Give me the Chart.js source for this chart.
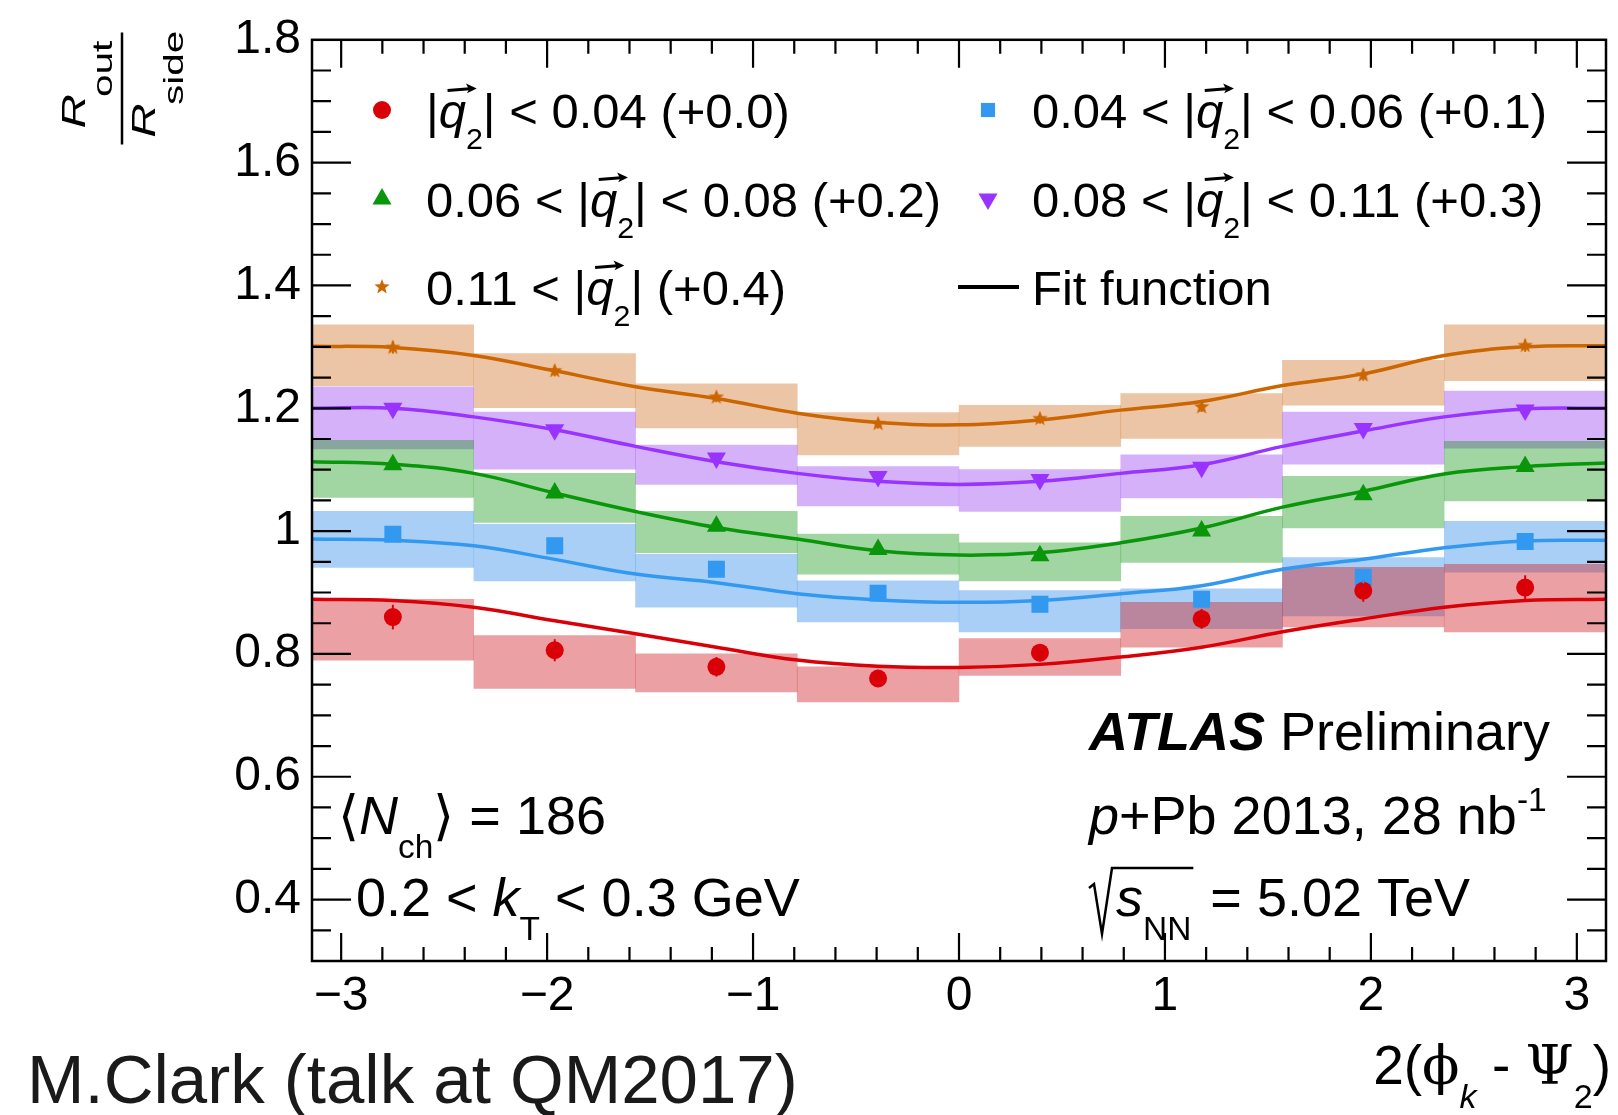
<!DOCTYPE html>
<html>
<head>
<meta charset="utf-8">
<script src="https://cdn.jsdelivr.net/npm/chart.js@4.4.0/dist/chart.umd.min.js"></script>
<style>
  html, body { margin: 0; padding: 0; background: #fff; }
</style>
</head>
<body>
<canvas id="c" width="1618" height="1115"></canvas>
<script>
// bins in 2(phi_k - Psi_2), 8 bins over [-pi, pi]
var binCenters = [-2.749, -1.963, -1.178, -0.393, 0.393, 1.178, 1.963, 2.749];
var fitX = [-3.1416, -2.749, -2.356, -1.963, -1.571, -1.178, -0.785, -0.393, 0, 0.393, 0.785, 1.178, 1.571, 1.963, 2.356, 2.749, 3.1416];

// |q2| < 0.04 (+0.0)
var redVal   = [0.860, 0.806, 0.779, 0.760, 0.802, 0.857, 0.903, 0.908];
var redErr   = [0.020, 0.018, 0.016, 0.014, 0.014, 0.016, 0.018, 0.020];
var redSysLo = [0.790, 0.744, 0.738, 0.722, 0.765, 0.811, 0.844, 0.836];
var redSysHi = [0.889, 0.830, 0.800, 0.779, 0.825, 0.884, 0.941, 0.946];
var redFit   = [0.889, 0.887, 0.876, 0.854, 0.833, 0.811, 0.790, 0.780, 0.778, 0.783, 0.795, 0.811, 0.836, 0.857, 0.876, 0.887, 0.889];

// 0.04 < |q2| < 0.06 (+0.1)
var blueVal   = [0.995, 0.976, 0.938, 0.899, 0.881, 0.889, 0.925, 0.983];
var blueErr   = [0.010, 0.010, 0.009, 0.008, 0.008, 0.009, 0.010, 0.010];
var blueSysLo = [0.941, 0.919, 0.876, 0.852, 0.836, 0.841, 0.862, 0.933];
var blueSysHi = [1.032, 1.011, 0.962, 0.919, 0.903, 0.906, 0.957, 1.016];
var blueFit   = [0.987, 0.985, 0.976, 0.954, 0.930, 0.916, 0.898, 0.888, 0.884, 0.887, 0.898, 0.911, 0.938, 0.954, 0.973, 0.984, 0.985];

// 0.06 < |q2| < 0.08 (+0.2)
var greenVal   = [1.108, 1.062, 1.008, 0.970, 0.960, 1.000, 1.059, 1.105];
var greenErr   = [0.008, 0.008, 0.007, 0.007, 0.007, 0.007, 0.008, 0.008];
var greenSysLo = [1.055, 1.014, 0.965, 0.930, 0.919, 0.949, 1.005, 1.049];
var greenSysHi = [1.148, 1.094, 1.032, 0.995, 0.981, 1.024, 1.089, 1.146];
var greenFit   = [1.113, 1.109, 1.094, 1.062, 1.032, 1.006, 0.987, 0.968, 0.961, 0.965, 0.981, 1.005, 1.039, 1.065, 1.093, 1.105, 1.111];

// 0.08 < |q2| < 0.11 (+0.3)
var purpleVal   = [1.200, 1.165, 1.119, 1.089, 1.084, 1.104, 1.167, 1.197];
var purpleErr   = [0.008, 0.008, 0.007, 0.007, 0.007, 0.007, 0.008, 0.008];
var purpleSysLo = [1.134, 1.101, 1.076, 1.041, 1.032, 1.054, 1.109, 1.135];
var purpleSysHi = [1.235, 1.194, 1.140, 1.105, 1.100, 1.124, 1.194, 1.228];
var purpleFit   = [1.200, 1.200, 1.186, 1.165, 1.138, 1.113, 1.094, 1.081, 1.076, 1.081, 1.094, 1.108, 1.138, 1.163, 1.186, 1.199, 1.200];

// 0.11 < |q2| (+0.4)
var orangeVal   = [1.299, 1.261, 1.218, 1.175, 1.183, 1.202, 1.254, 1.302];
var orangeErr   = [0.010, 0.009, 0.008, 0.008, 0.008, 0.008, 0.009, 0.010];
var orangeSysLo = [1.237, 1.201, 1.168, 1.124, 1.138, 1.151, 1.205, 1.245];
var orangeSysHi = [1.336, 1.289, 1.240, 1.193, 1.205, 1.224, 1.278, 1.336];
var orangeFit   = [1.301, 1.299, 1.286, 1.261, 1.235, 1.216, 1.192, 1.177, 1.173, 1.181, 1.197, 1.211, 1.237, 1.256, 1.286, 1.300, 1.302];

var xTickValues = [-3, -2, -1, 0, 1, 2, 3];
var xTickLabels = ['\u22123', '\u22122', '\u22121', '0', '1', '2', '3'];
var yTickValues = [0.4, 0.6, 0.8, 1.0, 1.2, 1.4, 1.6, 1.8];
var yTickLabels = ['0.4', '0.6', '0.8', '1', '1.2', '1.4', '1.6', '1.8'];

var FONT = '"Liberation Sans", Arial, Helvetica, sans-serif';
var SERIF = '"DejaVu Serif", "Liberation Serif", serif';

// star marker (ROOT full star)
function makeStar(color, R) {
  var c = document.createElement('canvas');
  var s = Math.ceil(R * 2 + 2);
  c.width = s; c.height = s;
  var g = c.getContext('2d');
  g.fillStyle = color;
  g.beginPath();
  for (var k = 0; k < 10; k++) {
    var r = (k % 2) ? R * 0.42 : R;
    var a = -Math.PI / 2 + k * Math.PI / 5;
    g.lineTo(s / 2 + r * Math.cos(a), s / 2 + r * Math.sin(a));
  }
  g.closePath();
  g.fill();
  return c;
}
var starImg = makeStar('rgb(204,102,0)', 8);

var series = [
  { val: redVal, err: redErr, lo: redSysLo, hi: redSysHi, fit: redFit,
    color: 'rgb(218,0,8)', box: 'rgba(210,40,45,0.44)', style: 'circle', radius: 9, rot: 0 },
  { val: blueVal, err: blueErr, lo: blueSysLo, hi: blueSysHi, fit: blueFit,
    color: 'rgb(51,153,240)', box: 'rgba(51,140,235,0.42)', style: 'rect', radius: 12, rot: 0 },
  { val: greenVal, err: greenErr, lo: greenSysLo, hi: greenSysHi, fit: greenFit,
    color: 'rgb(10,150,10)', box: 'rgba(20,150,20,0.40)', style: 'triangle', radius: 11, rot: 0 },
  { val: purpleVal, err: purpleErr, lo: purpleSysLo, hi: purpleSysHi, fit: purpleFit,
    color: 'rgb(153,51,255)', box: 'rgba(150,60,240,0.40)', style: 'triangle', radius: 11, rot: 180 },
  { val: orangeVal, err: orangeErr, lo: orangeSysLo, hi: orangeSysHi, fit: orangeFit,
    color: 'rgb(204,102,0)', box: 'rgba(205,110,30,0.40)', style: starImg, radius: 8, rot: 0 }
];

var datasets = [];
series.forEach(function (s) {
  datasets.push({
    type: 'bar',
    data: binCenters.map(function (x, i) { return { x: x, y: [s.lo[i], s.hi[i]] }; }),
    backgroundColor: s.box,
    borderWidth: 0,
    grouped: false,
    barPercentage: 1,
    categoryPercentage: 1,
    order: 3
  });
});
series.forEach(function (s) {
  datasets.push({
    type: 'line',
    data: fitX.map(function (x, i) { return { x: x, y: s.fit[i] }; }),
    borderColor: s.color,
    borderWidth: 3.5,
    pointRadius: 0,
    fill: false,
    tension: 0.4,
    order: 2
  });
});
series.forEach(function (s) {
  datasets.push({
    type: 'scatter',
    data: binCenters.map(function (x, i) { return { x: x, y: s.val[i] }; }),
    backgroundColor: s.color,
    borderColor: s.color,
    borderWidth: 0,
    pointStyle: s.style,
    pointRadius: s.radius,
    pointRotation: s.rot,
    order: 1
  });
});

// rich text: parts = [[text, flags]] flags: i italic, b bold, _ sub, ^ sup, v vector arrow, s serif
function drawRich(ctx, x, y, parts, size, align) {
  var items = [], w = 0;
  parts.forEach(function (p) {
    var f = p[1] || '';
    var small = f.indexOf('_') >= 0 || f.indexOf('^') >= 0;
    var fs = small ? size * 0.62 : size;
    var font = (f.indexOf('b') >= 0 ? 'bold ' : '') + (f.indexOf('i') >= 0 ? 'italic ' : '') +
      fs + 'px ' + (f.indexOf('s') >= 0 ? SERIF : FONT);
    ctx.font = font;
    var tw = ctx.measureText(p[0]).width;
    var dy = f.indexOf('_') >= 0 ? size * 0.44 : (f.indexOf('^') >= 0 ? -size * 0.42 : 0);
    items.push({ t: p[0], font: font, tw: tw, dy: dy, arrow: f.indexOf('v') >= 0, fs: fs });
    w += tw;
  });
  var cx = align === 'right' ? x - w : (align === 'center' ? x - w / 2 : x);
  ctx.textAlign = 'left';
  ctx.textBaseline = 'alphabetic';
  items.forEach(function (it) {
    ctx.font = it.font;
    ctx.fillText(it.t, cx, y + it.dy);
    if (it.arrow) {
      var ay = y - it.fs * 0.8;
      var x0 = cx + it.fs * 0.18, x1 = cx + it.tw + it.fs * 0.22;
      ctx.save();
      ctx.lineWidth = it.fs * 0.06;
      ctx.beginPath(); ctx.moveTo(x0, ay + 2); ctx.lineTo(x1 - 4, ay); ctx.stroke();
      ctx.beginPath();
      ctx.moveTo(x1, ay);
      ctx.lineTo(x1 - it.fs * 0.22, ay - it.fs * 0.1);
      ctx.lineTo(x1 - it.fs * 0.16, ay + 1);
      ctx.lineTo(x1 - it.fs * 0.2, ay + it.fs * 0.1);
      ctx.closePath(); ctx.fill();
      ctx.restore();
    }
    cx += it.tw;
  });
  return w;
}

function drawMarker(ctx, style, rot, r, x, y, color) {
  ctx.save();
  ctx.fillStyle = color;
  if (style === 'circle') {
    ctx.beginPath(); ctx.arc(x, y, r, 0, Math.PI * 2); ctx.fill();
  } else if (style === 'rect') {
    var h = r * Math.SQRT1_2;
    ctx.fillRect(x - h, y - h, 2 * h, 2 * h);
  } else if (style === 'triangle') {
    var a = rot * Math.PI / 180;
    ctx.beginPath();
    for (var k = 0; k < 3; k++) {
      ctx.lineTo(x + Math.sin(a) * r, y - Math.cos(a) * r);
      a += 2 * Math.PI / 3;
    }
    ctx.closePath(); ctx.fill();
  } else {
    ctx.drawImage(style, x - style.width / 2, y - style.height / 2);
  }
  ctx.restore();
}

var legendRows = [
  [[['|'], ['q', 'iv'], ['2', '_'], ['| < 0.04 (+0.0)']], 0, 0],
  [[['0.04 < |'], ['q', 'iv'], ['2', '_'], ['| < 0.06 (+0.1)']], 1, 0],
  [[['0.06 < |'], ['q', 'iv'], ['2', '_'], ['| < 0.08 (+0.2)']], 0, 1],
  [[['0.08 < |'], ['q', 'iv'], ['2', '_'], ['| < 0.11 (+0.3)']], 1, 1],
  [[['0.11 < |'], ['q', 'iv'], ['2', '_'], ['| (+0.4)']], 0, 2]
];

var errorBars = {
  id: 'errorBars',
  afterDatasetsDraw: function (chart) {
    var ctx = chart.ctx, xs = chart.scales.x, ys = chart.scales.y;
    ctx.save();
    ctx.lineWidth = 2;
    series.forEach(function (s) {
      ctx.strokeStyle = s.color;
      binCenters.forEach(function (c, i) {
        var px = xs.getPixelForValue(c);
        ctx.beginPath();
        ctx.moveTo(px, ys.getPixelForValue(s.val[i] - s.err[i]));
        ctx.lineTo(px, ys.getPixelForValue(s.val[i] + s.err[i]));
        ctx.stroke();
      });
    });
    ctx.restore();
  }
};

var frameAndText = {
  id: 'frameAndText',
  afterDraw: function (chart) {
    var ctx = chart.ctx, a = chart.chartArea, xs = chart.scales.x, ys = chart.scales.y;
    ctx.save();
    ctx.strokeStyle = '#000';
    ctx.fillStyle = '#000';
    ctx.lineWidth = 2.5;
    ctx.strokeRect(a.left, a.top, a.right - a.left, a.bottom - a.top);

    // inner ticks, x: major 1, minor 0.2 ; y: major 0.2, minor 0.05
    ctx.lineWidth = 2.2;
    ctx.beginPath();
    for (var k = -15; k <= 15; k++) {
      var px = xs.getPixelForValue(k * 0.2);
      var len = (k % 5 === 0) ? 28 : 14;
      ctx.moveTo(px, a.bottom); ctx.lineTo(px, a.bottom - len);
      ctx.moveTo(px, a.top); ctx.lineTo(px, a.top + len);
    }
    for (var j = 7; j <= 35; j++) {
      var py = ys.getPixelForValue(j * 0.05);
      var ln = (j % 4 === 0) ? 39 : 19;
      ctx.moveTo(a.left, py); ctx.lineTo(a.left + ln, py);
      ctx.moveTo(a.right, py); ctx.lineTo(a.right - ln, py);
    }
    ctx.stroke();

    // legend
    var colMark = [382, 988], colText = [426, 1032], rowY = [110, 199, 287];
    var LS = 49;
    legendRows.forEach(function (row, i) {
      var s = series[i];
      drawMarker(ctx, s.style, s.rot, s.style === 'rect' ? 10 : s.radius, colMark[row[1]], rowY[row[2]], s.color);
      ctx.fillStyle = '#000';
      drawRich(ctx, colText[row[1]], rowY[row[2]] + LS * 0.36, row[0], LS);
    });
    ctx.lineWidth = 4;
    ctx.beginPath(); ctx.moveTo(958, rowY[2]); ctx.lineTo(1019, rowY[2]); ctx.stroke();
    drawRich(ctx, colText[1], rowY[2] + LS * 0.36, [['Fit function']], LS);

    // annotations
    var AS = 54;
    drawRich(ctx, 1089, 750, [['ATLAS', 'bi'], [' Preliminary']], AS);
    drawRich(ctx, 1089, 834, [['p', 'i'], ['+Pb 2013, 28 nb'], ['-1', '^']], AS);
    var wS = drawRich(ctx, 1116, 916, [['s', 'i'], ['NN', '_']], AS);
    drawRich(ctx, 1116 + wS + 4, 916, [[' = 5.02 TeV']], AS);
    ctx.lineWidth = 2.5;
    ctx.beginPath();
    ctx.moveTo(1089, 888); ctx.lineTo(1094, 884); ctx.lineTo(1102, 934);
    ctx.lineTo(1112, 868); ctx.lineTo(1116 + wS + 2, 868);
    ctx.stroke();
    drawRich(ctx, 338, 834, [['\u27E8'], ['N', 'i'], ['ch', '_'], ['\u27E9 = 186']], AS);
    drawRich(ctx, 356, 916, [['0.2 < '], ['k', 'i'], ['T', '_'], [' < 0.3 GeV']], AS);

    // x axis title, cut at the bottom edge as in the source
    drawRich(ctx, 1611, 1084, [['2('], ['\u03D5', 's'], ['k', '_i'], [' - '], ['\u03A8', 's'], ['2', '_'], [')']], 55, 'right');

    // y axis title: R_out / R_side, rotated and stretched along the text like the source
    ctx.save();
    ctx.translate(122, 88.5);
    ctx.rotate(-Math.PI / 2);
    ctx.lineWidth = 2.5;
    ctx.beginPath(); ctx.moveTo(-56, 0); ctx.lineTo(56, 0); ctx.stroke();
    ctx.scale(1.45, 1);
    ctx.font = 'italic 33px ' + FONT;
    ctx.fillText('R', -27.6, -37);
    ctx.fillText('R', -34, 33);
    ctx.font = '28px ' + FONT;
    ctx.fillText('out', -5.9, -10);
    ctx.fillText('side', -11.4, 61);
    ctx.restore();

    // source note
    ctx.fillStyle = '#1a1a1a';
    ctx.font = '69px ' + FONT;
    ctx.fillText('M.Clark (talk at QM2017)', 27, 1103);
    ctx.restore();
  }
};

var ctx = document.getElementById('c').getContext('2d');
var chart = new Chart(ctx, {
  type: 'bar',
  data: { datasets: datasets },
  options: {
    responsive: false,
    animation: false,
    devicePixelRatio: 1,
    layout: { padding: { top: 31, right: 7, left: 0, bottom: 0 } },
    plugins: {
      legend: { display: false },
      tooltip: { enabled: false }
    },
    scales: {
      x: {
        type: 'linear',
        min: -Math.PI,
        max: Math.PI,
        offset: false,
        grid: { display: false, drawTicks: false, offset: false },
        border: { display: false },
        afterBuildTicks: function (s) { s.ticks = xTickValues.map(function (v) { return { value: v }; }); },
        afterFit: function (s) { s.height = 154; },
        ticks: {
          autoSkip: false,
          maxRotation: 0,
          padding: 7,
          color: '#000',
          font: { family: FONT, size: 48 },
          callback: function (v, i) { return xTickLabels[i]; }
        }
      },
      y: {
        type: 'linear',
        min: 0.3,
        max: 1.8,
        grid: { display: false, drawTicks: false },
        border: { display: false },
        afterBuildTicks: function (s) { s.ticks = yTickValues.map(function (v) { return { value: v }; }); },
        afterFit: function (s) { s.width = 312; },
        ticks: {
          autoSkip: false,
          padding: 11,
          color: '#000',
          font: { family: FONT, size: 48 },
          callback: function (v, i) { return yTickLabels[i]; }
        }
      }
    }
  },
  plugins: [errorBars, frameAndText]
});
</script>
</body>
</html>
